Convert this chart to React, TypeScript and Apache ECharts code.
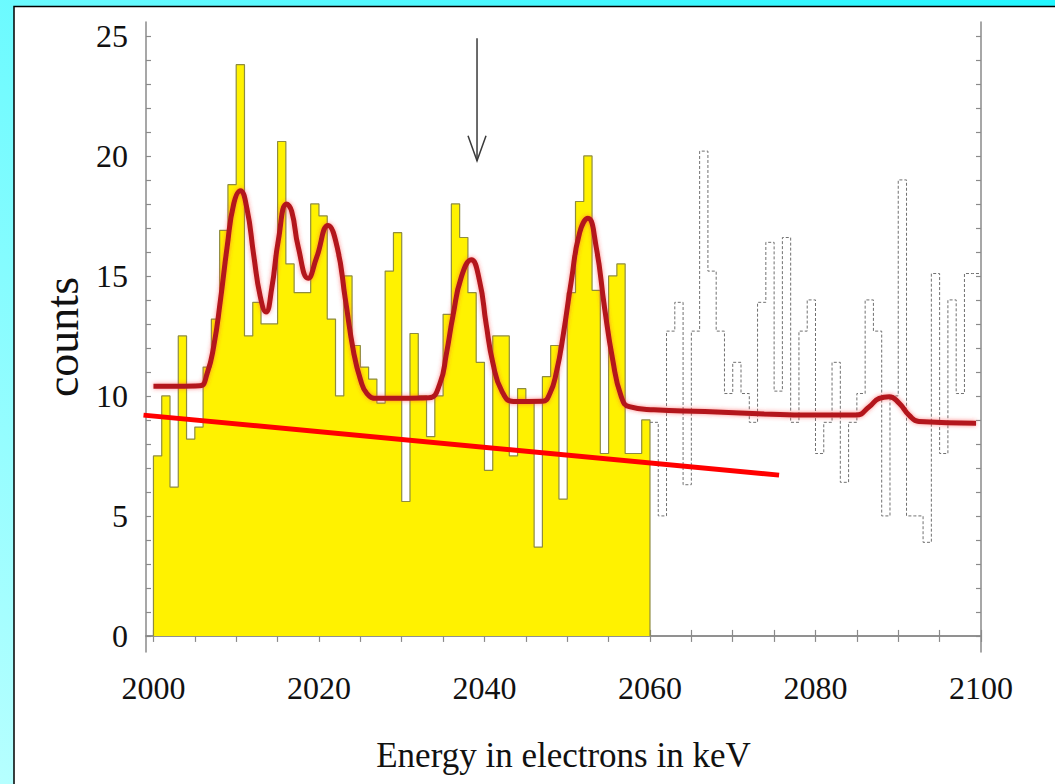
import React, { useEffect, useRef } from "react";
import * as echarts from "echarts";

// ---- data ----
const binStart = 2000; // keV, 1 keV bins
const yellowCounts = [
  7.5, 10.0, 6.2, 12.5, 8.2, 8.7, 11.2, 13.2, 16.9, 18.8,
  23.8, 12.5, 13.9, 13.0, 13.0, 20.6, 15.5, 14.3, 14.3, 18.0,
  17.5, 13.2, 10.0, 15.0, 12.1, 11.2, 10.7, 9.7, 15.2, 16.8,
  5.6, 12.6, 10.0, 8.3, 10.0, 13.4, 18.0, 16.6, 14.3, 11.4,
  6.9, 12.5, 12.5, 7.5, 10.3, 9.8, 3.7, 10.8, 12.1, 5.7,
  14.3, 18.1, 20.0, 14.4, 7.6, 15.0, 15.5, 7.6, 7.6, 9.0,
];
const dashedStart = 2060;
const dashedCounts = [
  8.9, 5.0, 12.7, 13.9, 6.3, 12.7, 20.2, 15.2, 12.7, 10.1,
  11.4, 10.1, 8.9, 13.9, 16.4, 10.2, 16.6, 8.9, 12.7, 14.0,
  7.6, 8.9, 11.4, 6.4, 8.9, 10.1, 14.0, 12.7, 5.0, 10.0,
  19.0, 5.0, 5.0, 3.9, 15.1, 7.6, 14.0, 10.1, 15.1, 15.1,
];
const fitCurve = [
  [2000, 10.4], [2003, 10.4], [2005.6, 10.42], [2006.5, 10.95], [2007.3, 12.1],
  [2008.1, 14.0], [2008.9, 16.2], [2009.7, 18.0], [2010.5, 18.55], [2011.3, 17.8],
  [2012.1, 15.9], [2012.9, 14.15], [2013.6, 13.5], [2014.3, 14.5], [2015.1, 16.5],
  [2016.1, 18.0], [2016.7, 17.7], [2017.5, 16.2], [2018.7, 14.9], [2019.7, 15.75],
  [2021.1, 17.1], [2022.2, 16.2], [2023.2, 14.0], [2024.2, 11.8], [2025.0, 10.7],
  [2025.8, 10.1], [2027, 9.9], [2030, 9.9], [2033.3, 9.92], [2034.6, 10.5],
  [2035.4, 11.76], [2036.2, 13.35], [2037.2, 14.95], [2038.4, 15.67], [2039.4, 14.8],
  [2040.2, 13.0], [2041, 11.4], [2042.1, 10.2], [2043.5, 9.77], [2047, 9.78],
  [2047.9, 10.1], [2048.7, 11.0], [2049.5, 12.5], [2050.5, 14.8], [2051.5, 16.8],
  [2052.5, 17.4], [2053.5, 16.2], [2054.5, 13.7], [2055.5, 11.5], [2056.5, 10.0],
  [2057.5, 9.55], [2060.5, 9.42], [2066.6, 9.35], [2073.8, 9.25], [2079.3, 9.2],
  [2084.9, 9.2], [2086.5, 9.55], [2087.7, 9.9], [2088.9, 9.97], [2090.1, 9.7],
  [2091.3, 9.2], [2092.5, 8.93], [2099.4, 8.86],
];
const backgroundLine = [[1998.8, 9.2], [2075.6, 6.7]];
const arrowMark = [2039.1, 24.9, 19.8]; // energy, top count, tip count
const xTickLabels = [2000, 2020, 2040, 2060, 2080, 2100];
const xTickMarks = [2000, 2005, 2010, 2015, 2020, 2025, 2030, 2035, 2040, 2045, 2050, 2055, 2060, 2065, 2070, 2075, 2080, 2085, 2090, 2095, 2100];
const yTickLabels = [0, 5, 10, 15, 20, 25];
const yTickMarks = [0, 1, 2, 3, 4, 5, 6, 7, 8, 9, 10, 11, 12, 13, 14, 15, 16, 17, 18, 19, 20, 21, 22, 23, 24, 25];
const xTitle = "Energy in electrons in keV";
const yTitle = "counts";

const FONT = '"Liberation Serif", "DejaVu Serif", serif';

export default function App() {
  const ref = useRef<HTMLDivElement>(null);
  useEffect(() => {
    if (!ref.current) return;
    const chart = echarts.init(ref.current, null, { renderer: "svg" });

    const yellowStep: number[][] = [[binStart, 0]];
    yellowCounts.forEach((v, i) => yellowStep.push([binStart + i, v]));
    yellowStep.push([binStart + yellowCounts.length, yellowCounts[yellowCounts.length - 1]]);
    yellowStep.push([binStart + yellowCounts.length, 0]);

    const dashedStep: number[][] = [];
    dashedCounts.forEach((v, i) => dashedStep.push([dashedStart + i, v]));
    dashedStep.push([dashedStart + dashedCounts.length, dashedCounts[dashedCounts.length - 1]]);

    const axisLineStyle = { color: "#8a8a8a", width: 1.5 };
    const tickStyle = { color: "#8a8a8a", width: 1.2 };
    const xMin = 1999.1, xMax = 2100, yMin = -0.67, yMax = 25.58;
    const plain = (v: number) => String(v);

    const option: any = {
      animation: false,
      graphic: [
        {
          type: "rect",
          z: -20,
          shape: { x: 0, y: 0, width: 1055, height: 784 },
          style: {
            fill: new echarts.graphic.LinearGradient(1, 0, 0, 1, [
              { offset: 0, color: "#22f6ff" },
              { offset: 1, color: "#b6ffff" },
            ]),
          },
        },
        {
          type: "rect",
          z: -19,
          shape: { x: 14, y: 6.5, width: 1100, height: 800 },
          style: { fill: "#ffffff", stroke: "#000000", lineWidth: 1.5 },
        },
      ],
      grid: { left: 146, right: 74, top: 22, bottom: 132, show: false },
      xAxis: [
        {
          type: "value", position: "bottom", min: xMin, max: xMax,
          axisLine: { show: true, lineStyle: axisLineStyle },
          axisTick: { show: true, inside: true, length: 6, customValues: xTickMarks, lineStyle: tickStyle },
          axisLabel: { customValues: xTickLabels, formatter: plain, fontFamily: FONT, fontSize: 32, color: "#111", margin: 20 },
          splitLine: { show: false },
          name: xTitle, nameLocation: "middle", nameGap: 86,
          nameTextStyle: { fontFamily: FONT, fontSize: 35, color: "#111" },
        },
        {
          type: "value", position: "top", min: xMin, max: xMax,
          axisLine: { show: true, lineStyle: axisLineStyle },
          axisTick: { show: true, inside: true, length: 6, customValues: xTickMarks, lineStyle: tickStyle },
          axisLabel: { show: false },
          splitLine: { show: false },
        },
      ],
      yAxis: [
        {
          type: "value", position: "left", min: yMin, max: yMax,
          axisLine: { show: true, lineStyle: axisLineStyle },
          axisTick: { show: true, inside: true, length: 5, customValues: yTickMarks, lineStyle: tickStyle },
          axisLabel: { customValues: yTickLabels, formatter: plain, fontFamily: FONT, fontSize: 32, color: "#111", margin: 18 },
          splitLine: { show: false },
          name: yTitle, nameLocation: "middle", nameGap: 58, nameRotate: 90,
          nameTextStyle: { fontFamily: FONT, fontSize: 46, color: "#111" },
        },
        {
          type: "value", position: "right", min: yMin, max: yMax,
          axisLine: { show: true, lineStyle: axisLineStyle },
          axisTick: { show: true, inside: true, length: 5, customValues: yTickMarks, lineStyle: tickStyle },
          axisLabel: { show: false },
          splitLine: { show: false },
        },
      ],
      series: [
        {
          type: "line", xAxisIndex: 0, yAxisIndex: 0, step: "end", data: yellowStep,
          symbol: "none", z: 2,
          lineStyle: { color: "#8e8c40", width: 1.2 },
          areaStyle: { color: "#fff200", opacity: 1 },
        },
        {
          type: "line", xAxisIndex: 0, yAxisIndex: 0, step: "end", data: dashedStep,
          symbol: "none", z: 2,
          lineStyle: { color: "#707070", width: 1, type: [3, 2] },
        },
        {
          type: "line", xAxisIndex: 0, yAxisIndex: 0, data: fitCurve, smooth: 0.5,
          symbol: "none", z: 4,
          lineStyle: { color: "#b3161b", width: 5, shadowColor: "rgba(255,60,60,0.6)", shadowBlur: 4 },
        },
        {
          type: "line", xAxisIndex: 0, yAxisIndex: 0, data: backgroundLine, clip: false,
          symbol: "none", z: 5,
          lineStyle: { color: "#ff0000", width: 5 },
        },
        {
          type: "custom", xAxisIndex: 0, yAxisIndex: 0, z: 6,
          data: [arrowMark],
          encode: { x: 0, y: [1, 2] },
          renderItem: (params: any, api: any) => {
            const x = api.value(0);
            const top = api.coord([x, api.value(1)]);
            const tip = api.coord([x, api.value(2)]);
            return {
              type: "group",
              children: [
                { type: "line", shape: { x1: top[0], y1: top[1], x2: tip[0], y2: tip[1] }, style: { stroke: "#3a3a3a", lineWidth: 1.5 } },
                {
                  type: "polyline",
                  shape: { points: [[tip[0] - 9, tip[1] - 25], [tip[0], tip[1]], [tip[0] + 9, tip[1] - 25]] },
                  style: { stroke: "#3a3a3a", lineWidth: 1.5, fill: "none" },
                },
              ],
            };
          },
        },
      ],
    };
    chart.setOption(option);
    return () => chart.dispose();
  }, []);
  return (
    <div
      ref={ref}
      style={{ position: "absolute", left: 0, top: 0, width: 1055, height: 784 }}
    />
  );
}
